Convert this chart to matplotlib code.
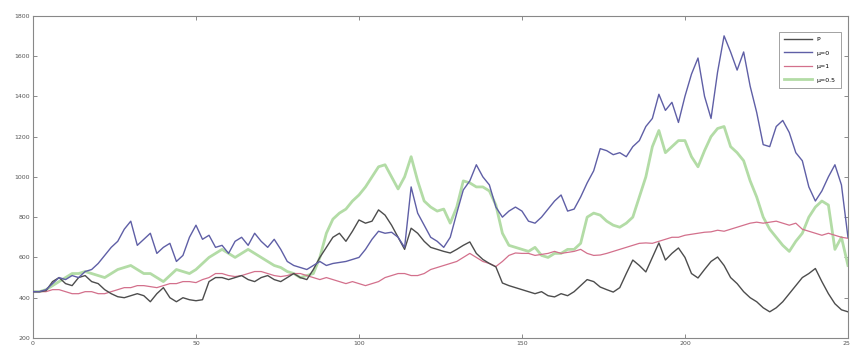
import matplotlib
matplotlib.use("Agg")
import matplotlib.pyplot as plt

# sample days (every 2nd step)
days = list(range(0, 251, 2))

price_p = [430, 430, 435, 480, 500, 470, 460, 500, 510, 480,
           470, 440, 420, 405, 400, 410, 420, 410, 380, 420,
           450, 400, 380, 400, 390, 385, 390, 480, 500, 500,
           490, 500, 510, 490, 480, 500, 510, 490, 480, 500,
           520, 500, 490, 540, 600, 650, 700, 720, 680, 730,
           786, 770, 780, 836, 810, 760, 700, 640, 745, 720,
           680, 650, 640, 630, 622, 640, 660, 677, 620, 590,
           570, 553, 473, 460, 450, 440, 430, 420, 430, 410,
           404, 420, 410, 430, 460, 490, 480, 453, 440, 428,
           450, 520, 587, 560, 528, 600, 672, 587, 620, 647,
           600, 520, 498, 540, 580, 602, 560, 500, 470, 430,
           400, 380, 350, 330, 350, 380, 420, 460, 500, 520,
           545, 480, 420, 370, 340, 330]

mu0 = [430, 430, 440, 470, 500, 490, 510, 500, 530, 540,
       570, 610, 650, 680, 740, 780, 660, 690, 720, 620,
       650, 670, 580, 610, 700, 760, 690, 710, 650, 660,
       620, 680, 700, 660, 720, 680, 650, 690, 640, 580,
       560, 550, 540, 560, 580, 560, 570, 575, 580, 590,
       600, 640, 690, 730, 720, 725, 700, 650, 950, 820,
       760, 700, 680, 650, 700, 820, 935, 980, 1060, 1000,
       960, 850, 800, 830, 850, 830, 780, 770, 800, 840,
       880, 910, 830, 840, 900, 970, 1030, 1140, 1130, 1110,
       1120, 1100, 1150, 1180, 1250, 1290, 1410, 1330, 1370, 1270,
       1400, 1510, 1590, 1400, 1290, 1520, 1700, 1620, 1530, 1620,
       1450, 1320, 1160, 1150, 1250, 1280, 1220, 1120, 1080, 950,
       880, 930, 1000, 1060, 960, 700]

mu1 = [430, 430, 430, 440, 440, 430, 420, 420, 430, 430,
       420, 420, 430, 440, 450, 450, 460, 460, 455, 450,
       460, 470, 470, 480, 480, 475, 490, 500, 520, 520,
       510, 505, 510, 520, 530, 530, 520, 510, 505, 510,
       520, 520, 510, 500, 490, 500, 490, 480, 470, 480,
       470, 460, 470, 480, 500, 510, 520, 520, 510, 510,
       520, 540, 550, 560, 570, 580, 600, 620, 600, 580,
       570, 555, 580, 610, 622, 620, 620, 610, 615, 620,
       630, 620, 625, 630, 640, 620, 610, 612, 620, 630,
       640, 650, 660, 670, 672, 670, 680, 690, 700, 700,
       710, 715, 720, 725, 727, 735, 730, 740, 750, 760,
       770, 775, 770, 775, 780, 770, 760, 770, 740, 730,
       720, 710, 720, 710, 700, 695]

mu05 = [430, 430, 440, 460, 480, 500, 520, 520, 530, 520,
        510, 500, 520, 540, 550, 560, 540, 520, 520, 500,
        480, 510, 540, 530, 520, 540, 570, 600, 620, 640,
        620, 600, 620, 640, 620, 600, 580, 560, 550, 530,
        520, 500, 510, 520, 600, 720, 790, 820, 840, 880,
        910, 950, 1000, 1050, 1060, 1000, 940, 1000, 1100, 980,
        880, 850, 830, 840, 770, 850, 980, 970, 950, 950,
        930, 860, 720, 660, 650, 640, 630, 650, 610, 600,
        620, 620, 640, 640, 670, 800, 820, 810, 780, 760,
        750, 770, 800, 900, 1000, 1150, 1230, 1120, 1150, 1180,
        1180, 1100, 1050, 1130, 1200, 1240, 1250, 1150, 1120, 1080,
        980, 900, 800, 740, 700, 660, 630, 680, 720, 800,
        850, 880, 860, 640, 700, 560]

legend_labels = ["P", "\u03bc=0", "\u03bc=1", "\u03bc=0.5"]
x_ticks = [0, 50, 100, 150, 200, 250]
y_ticks = [200, 400, 600, 800, 1000, 1200, 1400, 1600, 1800]

fig = plt.figure(figsize=(8.5, 3.53), dpi=100)
ax = fig.add_axes([0.0388, 0.0425, 0.9588, 0.913])

l_green, = ax.plot(days, mu05, color="#b3dca6", lw=2.0, zorder=2)
l_red, = ax.plot(days, mu1, color="#d3708c", lw=0.9, zorder=3)
l_black, = ax.plot(days, price_p, color="#4d4d4d", lw=1.0, zorder=4)
l_blue, = ax.plot(days, mu0, color="#5f5fa6", lw=1.0, zorder=5)

ax.set_xlim(0, 250)
ax.set_ylim(200, 1800)
ax.set_xticks(x_ticks)
ax.set_yticks(y_ticks)
ax.tick_params(direction="in", length=3, width=0.6, colors="#777777",
               labelsize=4.5, labelcolor="#555555", top=True, right=True,
               pad=2)
for s in ax.spines.values():
    s.set_color("#888888")
    s.set_linewidth(0.8)

leg = ax.legend([l_black, l_blue, l_red, l_green], legend_labels,
                loc="upper right", fontsize=4.5, frameon=True,
                fancybox=False, edgecolor="#777777", handlelength=4.5,
                borderpad=0.8, labelspacing=1.3, bbox_to_anchor=(0.995, 0.96))
leg.get_frame().set_linewidth(0.6)

fig.savefig("out.png", dpi=100)
